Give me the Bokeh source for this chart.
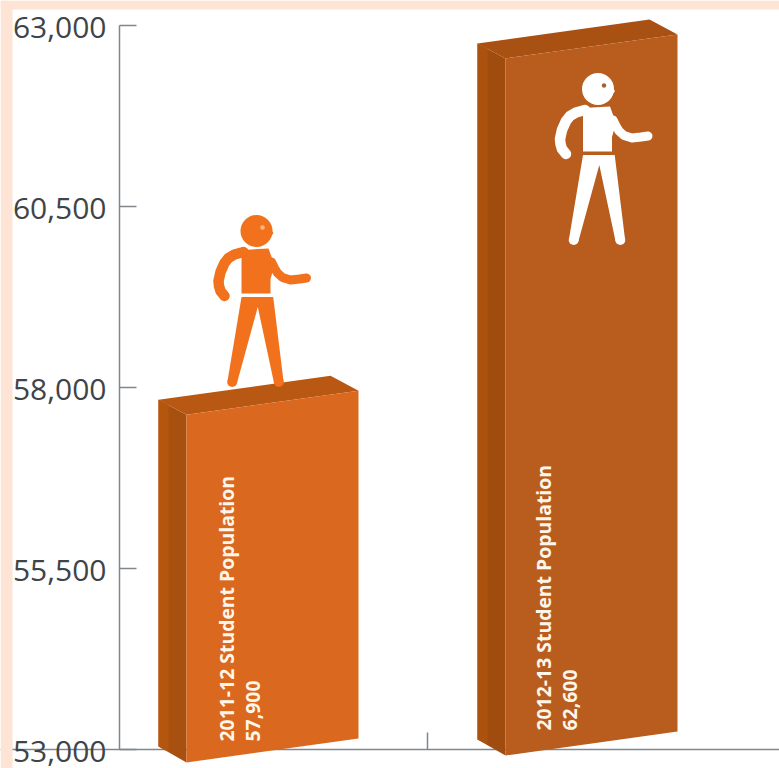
import numpy as np
from bokeh.core.properties import value
from bokeh.embed import file_html
from bokeh.models import FixedTicker, LinearAxis, Range1d
from bokeh.plotting import figure
from bokeh.resources import INLINE

# Enrolment figures
years = ["2011-12", "2012-13"]
students = [57900, 62600]
student_labels = ["57,900", "62,600"]
y_ticks = [53000, 55500, 58000, 60500, 63000]
y_tick_labels = ["53,000", "55,500", "58,000", "60,500", "63,000"]

W, H = 779, 768
AXIS_X, BASE_Y = 119, 749          # pixel position of the axis corner
SLOT = 308                         # pixels per category slot
PX_PER_UNIT = 724 / 10000          # vertical pixels per student
LABEL_DROP = 1.5                   # tick labels sit slightly below their ticks

def dx(px):
    return (px - AXIS_X) / SLOT

def dy(px):
    return y_ticks[0] + (BASE_Y - px) / PX_PER_UNIT

p = figure(width=W, height=H, output_backend="svg", toolbar_location=None,
           x_range=Range1d(dx(0), dx(W)), y_range=Range1d(dy(H), dy(0)),
           x_axis_type=None, y_axis_type=None, min_border=0, outline_line_color=None,
           background_fill_color="white", border_fill_color="white")
p.grid.visible = False
p.extra_y_ranges = {"labels": Range1d(dy(H - LABEL_DROP), dy(-LABEL_DROP))}

# Page frame
PEACH = "#FDE4D4"
p.quad(left=dx(0), right=dx(W), top=dy(0), bottom=dy(9), color=PEACH, line_color=None)
p.quad(left=dx(0), right=dx(12), top=dy(0), bottom=dy(H), color=PEACH, line_color=None)

# Axes sit behind the bars
AXIS_COLOR = "#7F868D"
yax = LinearAxis(fixed_location=0, ticker=FixedTicker(ticks=y_ticks),
                 major_label_text_color=None, major_label_text_font_size="1px",
                 major_tick_in=17, major_tick_out=0, minor_tick_line_color=None,
                 axis_line_color=AXIS_COLOR, axis_line_width=1.5,
                 major_tick_line_color=AXIS_COLOR, major_tick_line_width=1.5,
                 bounds=(y_ticks[0], y_ticks[-1]), level="underlay")
yax.major_label_overrides = {t: "" for t in y_ticks}
p.add_layout(yax, "left")
ylab = LinearAxis(fixed_location=0, y_range_name="labels", ticker=FixedTicker(ticks=y_ticks),
                  major_label_overrides=dict(zip(y_ticks, y_tick_labels)),
                  major_tick_line_color=None, minor_tick_line_color=None, axis_line_color=None,
                  major_tick_in=0, major_tick_out=0,
                  major_label_text_font="Open Sans", major_label_text_font_size="30px",
                  major_label_text_color="#3F4448", major_label_standoff=13)
p.add_layout(ylab, "left")
xax = LinearAxis(fixed_location=y_ticks[0], ticker=FixedTicker(ticks=[1]),
                 major_label_overrides={1: ""}, major_tick_in=17, major_tick_out=0,
                 minor_tick_line_color=None, axis_line_color=AXIS_COLOR, axis_line_width=1.5,
                 major_tick_line_color=AXIS_COLOR, major_tick_line_width=1.5,
                 level="underlay")
p.add_layout(xax, "below")

# Styling per box: faces, pictogram colours and vertical placement
front_colors = ["#DB681F", "#B95D1F"]
side_colors = ["#A8500F", "#A04C0E"]
side_light = ["#B5560F", "#AC520F"]
top_colors = ["#B85813", "#A95013"]
figure_colors = ["#F2711C", "#FFFFFF"]
eye_colors = ["#F7B98A", "#A9602F"]
centres_px = [272, 591]
top_lift = [0, 16]
foot_lift = [0, 7]
figure_head = [(256, 230.5), (597.5, 88.5)]
text_x = [[226, 252], [543, 569]]
text_y = [741, 730]

for i, students_i in enumerate(students):
    c = centres_px[i]
    vy = BASE_Y - (students_i - y_ticks[0]) * PX_PER_UNIT
    fl, fr, bl, br = c - 86, c + 86, c - 114, c + 58
    t = lambda off: dy(vy + off - top_lift[i])
    b = lambda off: dy(BASE_Y + off - foot_lift[i])
    # side face, with a lighter strip along its outer edge
    p.patch([dx(bl), dx(fl), dx(fl), dx(bl)], [t(5), t(20), b(13), b(-3)],
            color=side_colors[i], line_color=None)
    p.patch([dx(bl), dx(bl + 10), dx(bl + 10), dx(bl)], [t(5), t(10), b(2), b(-3)],
            color=side_light[i], line_color=None)
    # top face
    p.patch([dx(bl), dx(br), dx(fr), dx(fl)], [t(5), t(-19), t(-4), t(20)],
            color=top_colors[i], line_color=None)
    # front face
    p.patch([dx(fl), dx(fr), dx(fr), dx(fl)], [t(20), t(-4), b(-11), b(13)],
            color=front_colors[i], line_color=None)

    # standing figure, laid out around the centre of its head
    hx, hy = figure_head[i]
    col = figure_colors[i]
    def X(a):
        return [dx(hx + v) for v in a]
    def Y(a):
        return [dy(hy + v) for v in a]
    p.patch(X([-15, 12, 18, 14, 14, -15]), Y([19, 17.5, 34, 48, 62.5, 62.5]), color=col, line_color=None)
    p.line(X([-13, -22, -28, -32, -36, -38, -37.5, -36, -32]),
           Y([21, 23.5, 27, 32, 41, 50, 55, 60, 65]),
           line_color=col, line_width=10.5, line_cap="round", line_join="round")
    p.line(X([15, 18, 21, 26, 34, 43, 50]), Y([31, 37, 42, 46.5, 49, 48, 47]),
           line_color=col, line_width=9, line_cap="round", line_join="round")
    p.patch(X([-15, 16.7, 27, 17.5, 1.3, -19.5, -29]), Y([66, 66, 150, 152, 76, 152, 150]),
            color=col, line_color=None)
    p.scatter(X([-24.3, 22.3]), Y([151, 151]), size=10, marker="circle", color=col, line_color=None)
    p.scatter(X([0]), Y([0]), size=32, marker="circle", color=col, line_color=None)
    p.patch(X([12, 17, 12]), Y([-4, 2, 9]), color=col, line_color=None)
    p.scatter(X([6]), Y([-3.5]), size=4.5, marker="circle", color=eye_colors[i], line_color=None)

    # rotated caption on the front face
    caption = [f"{years[i]} Student Population", student_labels[i]]
    p.text(x=[dx(v) for v in text_x[i]], y=[dy(text_y[i])] * 2, text=caption,
           angle=np.pi / 2, text_align="left", text_baseline="middle",
           text_color="#FFF6EA", text_font=value("Open Sans"), text_font_size="19.4px",
           text_font_style="bold")

open("out.html", "w").write(file_html(p, INLINE))
